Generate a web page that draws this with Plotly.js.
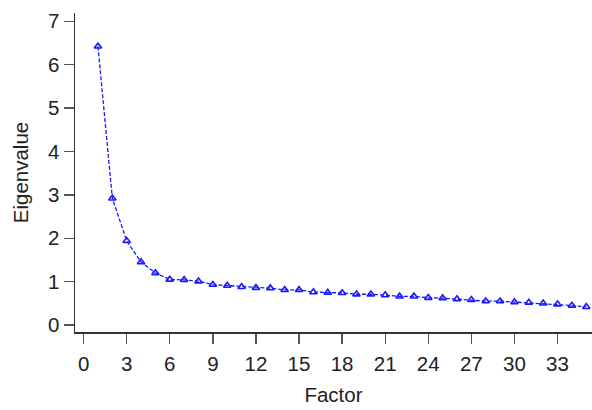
<!DOCTYPE html>
<html>
<head>
<meta charset="utf-8">
<script src="https://cdn.plot.ly/plotly-3.0.1.min.js"></script>
<style>html,body{margin:0;padding:0;background:#fff;}#chart{width:592px;height:410px;}</style>
</head>
<body>
<div id="chart"></div>
<script>
const factors = [1,2,3,4,5,6,7,8,9,10,11,12,13,14,15,16,17,18,19,20,21,22,23,24,25,26,27,28,29,30,31,32,33,34,35];
const eigenvalues = [6.42,2.92,1.94,1.45,1.20,1.05,1.04,1.01,0.93,0.91,0.88,0.86,0.85,0.81,0.81,0.76,0.75,0.74,0.71,0.71,0.69,0.66,0.66,0.63,0.62,0.60,0.58,0.55,0.55,0.53,0.52,0.50,0.48,0.45,0.42];
const xTicks = [0,3,6,9,12,15,18,21,24,27,30,33];
const yTicks = [0,1,2,3,4,5,6,7];

const trace = {
  x: factors, y: eigenvalues, type: 'scatter', mode: 'lines+markers',
  line: {color: 'rgb(25,25,255)', width: 1.3, dash: '4px,2px'},
  marker: {symbol: 'triangle-up-open', size: 6.5, color: 'rgb(25,25,255)', line: {width: 1.6}},
  hoverinfo: 'none'
};
const font = {family: 'Liberation Sans, Arial, sans-serif', size: 20.5, color: '#222'};
const layout = {
  width: 592, height: 410,
  margin: {l: 75, r: 0, t: 13, b: 78},
  paper_bgcolor: '#fff', plot_bgcolor: '#fff',
  showlegend: false,
  font: font,
  xaxis: {
    range: [-0.6, 35.4], tickvals: xTicks, ticktext: xTicks.map(String),
    ticks: 'outside', ticklen: 10, tickwidth: 1.3, tickcolor: '#555',
    showline: true, linecolor: '#333', linewidth: 1.5,
    showgrid: false, zeroline: false, automargin: false,
    tickfont: font, ticklabelstandoff: 3,
    title: {text: 'Factor', font: font, standoff: 13}
  },
  yaxis: {
    range: [-0.16, 7.19], tickvals: yTicks, ticktext: yTicks.map(String),
    ticks: 'outside', ticklen: 10, tickwidth: 1.3, tickcolor: '#555',
    showline: true, linecolor: '#333', linewidth: 1.5,
    showgrid: false, zeroline: false, automargin: false,
    tickfont: font,
    title: {text: 'Eigenvalue', font: font, standoff: 14}
  }
};
Plotly.newPlot('chart', [trace], layout, {displayModeBar: false, staticPlot: true});
</script>
</body>
</html>
